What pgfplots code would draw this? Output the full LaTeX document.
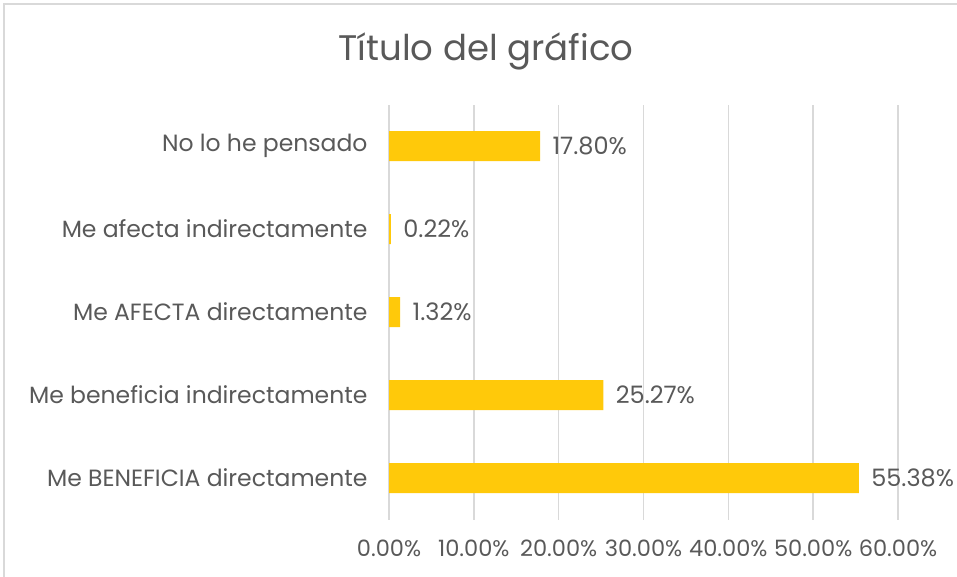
\documentclass[border=0pt]{standalone}
\usepackage{pgfplots}
\pgfplotsset{compat=1.18}
\usepackage{fontspec}
\setmainfont{Poppins}
\definecolor{barc}{HTML}{FFC90A}
\definecolor{txt}{HTML}{595959}
\definecolor{grd}{HTML}{D9D9D9}
\begin{document}
\begin{tikzpicture}[x=1pt,y=1pt]
\path[use as bounding box] (0,0) rectangle (957,-577);
\draw[grd, line width=1.5pt] (4,-577) -- (4,-4) -- (957,-4);
\node[txt, font=\fontsize{35.5}{42}\selectfont] at (486,-51) {Título del gráfico};
\begin{axis}[
  at={(389pt,-519.5pt)}, anchor=south west,
  scale only axis, width=509pt, height=415pt,
  xbar, bar width=30pt,
  xmin=0, xmax=60, ymin=-0.5, ymax=4.5,
  ytick={0,...,4},
  yticklabels={Me BENEFICIA directamente, Me beneficia indirectamente, Me AFECTA directamente, Me afecta indirectamente, No lo he pensado},
  xtick={0,10,...,60},
  xticklabel={\pgfmathprintnumber[fixed,fixed zerofill,precision=2]{\tick}\%},
  /pgf/number format/assume math mode=true,
  xmajorgrids, ymajorgrids=false,
  grid style={grd, line width=1.5pt},
  axis line style={draw=none},
  major tick length=0pt,
  tick style={draw=none},
  xticklabel style={txt, font=\fontsize{22.5}{27}\selectfont, yshift=-17pt},
  yticklabel style={txt, font=\fontsize{23.5}{28}\selectfont, xshift=-18pt},
  nodes near coords={\pgfmathprintnumber[fixed,fixed zerofill,precision=2]{\pgfplotspointmeta}\%},
  nodes near coords style={txt, font=\fontsize{24}{28}\selectfont, anchor=west, xshift=9pt},
  point meta=explicit,
]
\addplot[fill=barc, draw=none] coordinates {
  (55.38,0) [55.38]
  (25.27,1) [25.27]
  (1.32,2) [1.32]
  (0.22,3) [0.22]
  (17.80,4) [17.80]
};
\end{axis}
\end{tikzpicture}
\end{document}
